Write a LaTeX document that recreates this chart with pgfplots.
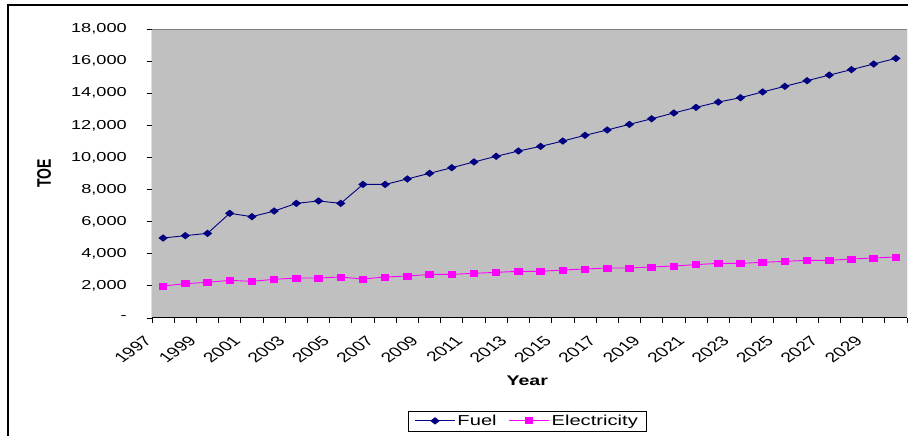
\documentclass[border=0pt]{standalone}
\usepackage{pgfplots}
\pgfplotsset{compat=1.18}
\usepackage{fontspec}
\usepackage{graphicx}
\setmainfont{Liberation Sans}
\newfontfamily\widefont{Liberation Sans}[FakeStretch=1.4]
\newfontfamily\plainfont{Liberation Sans}
\definecolor{bggray}{RGB}{192,192,192}
\definecolor{framegray}{RGB}{128,128,128}
\definecolor{fuelc}{RGB}{0,0,128}
\definecolor{elecc}{RGB}{255,0,255}
\newcommand\yr[1]{\scalebox{1.4}[1]{\rotatebox{45}{\plainfont\fontsize{13.8}{13.8}\selectfont #1}}}
\begin{document}
\begin{tikzpicture}[x=1pt,y=1pt]
\begin{axis}[
 scale only axis,
 width=755pt, height=289pt,
 xmin=-0.5, xmax=33.5, ymin=0, ymax=18000,
 scaled y ticks=false,
 axis background/.style={fill=bggray},
 axis line style={draw=none},
 xtick={-0.5,0.5,...,33.5}, xticklabels={},
 xtick pos=bottom, ytick pos=left,
 extra x ticks={0,2,...,32},
 extra x tick labels={\yr{1997},\yr{1999},\yr{2001},\yr{2003},\yr{2005},\yr{2007},\yr{2009},\yr{2011},\yr{2013},\yr{2015},\yr{2017},\yr{2019},\yr{2021},\yr{2023},\yr{2025},\yr{2027},\yr{2029}},
 extra x tick style={major tick length=0pt},
 xticklabel style={anchor=north east, inner sep=0pt, xshift=-10pt, yshift=-17pt},
 ytick={0,2000,...,18000},
 yticklabels={{-},{2,000},{4,000},{6,000},{8,000},{10,000},{12,000},{14,000},{16,000},{18,000}},
 yticklabel style={font=\widefont\fontsize{13}{13}\selectfont, anchor=east, inner sep=0pt, xshift=-20pt},
 tick align=outside, major tick length=5pt,
 tick style={black, line width=0.8pt},
 xlabel={Year},
 xlabel style={at={(axis description cs:0.497,-0.218)}, anchor=center, font=\widefont\bfseries\fontsize{14}{14}\selectfont},
 ylabel={\scalebox{1}[1.4]{\plainfont\bfseries\fontsize{14}{14}\selectfont TOE}},
 ylabel style={at={(axis description cs:-0.143,0.5)}, anchor=center},
 legend style={at={(0.497,-0.356)}, anchor=center, legend columns=2, draw=black, fill=white,
   font=\widefont\fontsize{14.4}{16}\selectfont, inner xsep=6pt, inner ysep=2pt,
   /tikz/every even column/.append style={column sep=10pt}},
 legend image code/.code={\draw[mark repeat=2,mark phase=2] plot coordinates {(0pt,0pt) (20pt,0pt) (40pt,0pt)};},
]
\addplot[fuelc, line width=0.9pt, mark=diamond*, mark size=3.1pt, mark options={xscale=1.7, fill=fuelc, draw=fuelc}] coordinates {
(0,4980) (1,5130) (2,5270) (3,6520) (4,6310) (5,6660) (6,7140) (7,7290) (8,7140) (9,8320)
(10,8320) (11,8660) (12,9010) (13,9360) (14,9720) (15,10070) (16,10400) (17,10690) (18,11020) (19,11380)
(20,11710) (21,12060) (22,12410) (23,12770) (24,13120) (25,13450) (26,13720) (27,14080) (28,14430) (29,14780)
(30,15130) (31,15470) (32,15820) (33,16170)};
\addlegendentry{Fuel}
\addplot[elecc, line width=0.9pt, mark=square*, mark size=3pt, mark options={xscale=1.25, fill=elecc, draw=elecc}] coordinates {
(0,1993) (1,2138) (2,2221) (3,2346) (4,2284) (5,2408) (6,2491) (7,2491) (8,2553) (9,2429)
(10,2553) (11,2616) (12,2710) (13,2720) (14,2782) (15,2844) (16,2907) (17,2907) (18,2989) (19,3052)
(20,3114) (21,3114) (22,3176) (23,3239) (24,3322) (25,3405) (26,3405) (27,3467) (28,3529) (29,3592)
(30,3592) (31,3675) (32,3737) (33,3799)};
\addlegendentry{Electricity}
\draw[framegray, line width=0.8pt] (rel axis cs:0,1) -- (rel axis cs:1,1) -- (rel axis cs:1,0);
\draw[black, line width=1pt] (rel axis cs:0,1) -- (rel axis cs:0,0) -- (rel axis cs:1,0);
\coordinate (O) at (rel axis cs:0,0);
\end{axis}
\pgfresetboundingbox
\path[use as bounding box] ([shift={(-152,-118)}]O) rectangle ([shift={(756,318)}]O);
\draw[black, line width=1.3pt] ([shift={(-144,-120)}]O) -- ([shift={(-144,313)}]O) -- ([shift={(760,313)}]O);
\end{tikzpicture}
\end{document}
